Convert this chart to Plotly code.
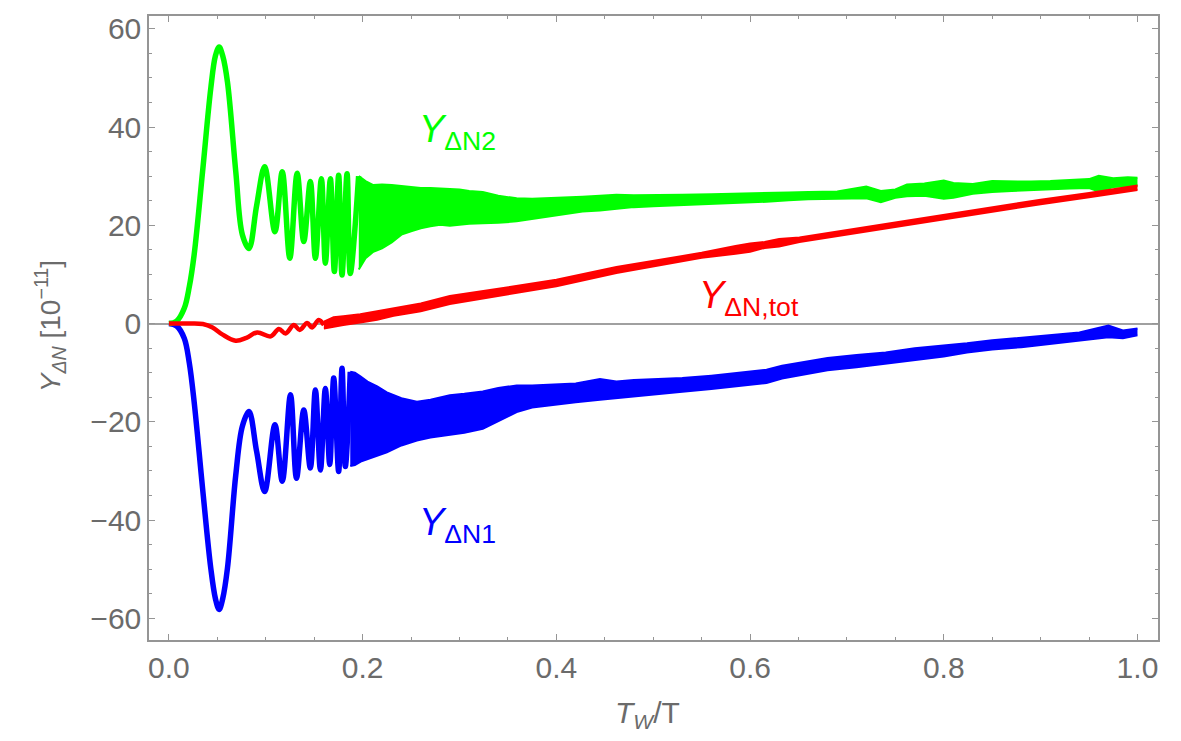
import plotly.graph_objects as go

GREEN = "#00ff00"
BLUE = "#0000ff"
RED = "#ff0000"
GRAY = "#6b6b6b"
FRAME = "#959595"

# ---- early, resolved oscillations (T_W/T, Y in 1e-11) ----
green_x = [0.0, 0.008, 0.0158, 0.021, 0.026, 0.0347, 0.0432, 0.048, 0.0518, 0.0555, 0.0604,
           0.069, 0.0758, 0.0826, 0.0905, 0.0988, 0.1094, 0.117, 0.1248, 0.1324, 0.1392,
           0.146, 0.1512, 0.1574, 0.1615, 0.1667, 0.1708, 0.1752, 0.1787, 0.1839, 0.1872, 0.1958]
green_y = [0.0, 0.5, 3.1, 7.5, 14.0, 30.9, 47.9, 54.5, 56.3, 54.5, 49.2,
           30.9, 18.1, 15.3, 24.0, 31.9, 18.7, 30.9, 13.3, 30.6, 16.7,
           28.9, 13.3, 29.5, 12.3, 29.5, 10.6, 30.2, 9.9, 30.5, 10.2, 30.0]

blue_x = [0.0, 0.008, 0.0158, 0.021, 0.026, 0.0347, 0.0432, 0.048, 0.0518, 0.0555, 0.0604,
          0.069, 0.0758, 0.0826, 0.0905, 0.0988, 0.1094, 0.117, 0.1255, 0.1317, 0.1392,
          0.146, 0.1512, 0.1564, 0.1615, 0.166, 0.1701, 0.1752, 0.1787, 0.1821, 0.1872]
blue_y = [0.0, -0.5, -3.0, -8.0, -15.9, -33.5, -49.8, -56.0, -58.2, -56.0, -49.8,
          -30.8, -20.9, -17.9, -26.0, -34.2, -20.6, -32.1, -14.5, -31.5, -17.6,
          -29.4, -13.5, -29.8, -13.2, -28.7, -11.1, -30.1, -9.1, -29.1, -9.8]

red_x = [0.0, 0.02, 0.035, 0.045, 0.055, 0.0689, 0.08, 0.0912, 0.105, 0.1135, 0.1204,
         0.129, 0.135, 0.1427, 0.1478, 0.1547, 0.16]
red_y = [0.0, 0.0, -0.1, -0.8, -2.2, -3.5, -2.9, -1.8, -2.6, -1.1, -2.0,
         -0.3, -1.3, 0.1, -0.8, 0.75, -0.3]

# ---- dense-oscillation bands: upper / lower envelopes ----
green_band_x = [0.196, 0.203, 0.211, 0.22, 0.23, 0.24, 0.25, 0.26, 0.27, 0.28, 0.29, 0.30, 0.31,
                0.324, 0.34, 0.359, 0.375, 0.393, 0.41, 0.427, 0.445, 0.462, 0.48, 0.50, 0.53,
                0.56, 0.59, 0.617, 0.64, 0.66, 0.69, 0.72, 0.735, 0.75, 0.762, 0.78, 0.80, 0.81,
                0.83, 0.85, 0.87, 0.89, 0.91, 0.93, 0.95, 0.96, 0.975, 0.99, 1.0]
green_band_hi = [30.0, 29.0, 28.2, 28.3, 28.2, 28.0, 27.9, 27.6, 27.6, 27.5, 27.4, 27.3, 27.0,
                 26.8, 26.0, 25.5, 25.4, 25.5, 25.7, 25.8, 26.0, 26.2, 26.1, 26.1, 26.2,
                 26.3, 26.4, 26.5, 26.7, 26.8, 26.9, 27.9, 27.0, 27.3, 28.3, 28.5, 29.1, 28.6,
                 28.4, 29.0, 28.9, 28.9, 29.0, 29.2, 29.4, 30.1, 29.6, 29.8, 29.7]
green_band_lo = [11.0, 13.3, 14.6, 15.3, 16.5, 18.1, 18.8, 19.4, 19.8, 20.1, 19.9, 20.1, 20.3,
                 20.4, 20.5, 20.8, 21.3, 21.8, 22.3, 22.8, 23.0, 23.4, 23.7, 23.9, 24.1,
                 24.4, 24.6, 24.8, 25.1, 25.3, 25.4, 25.5, 24.7, 25.6, 25.9, 26.0, 25.4, 25.6,
                 26.4, 26.8, 27.0, 27.2, 27.3, 27.5, 27.6, 26.9, 27.8, 28.0, 28.1]

blue_band_x = [0.1872, 0.192, 0.198, 0.205, 0.215, 0.225, 0.24, 0.256, 0.27, 0.29, 0.305, 0.324,
               0.34, 0.359, 0.375, 0.393, 0.42, 0.445, 0.462, 0.48, 0.50, 0.53, 0.56, 0.59,
               0.617, 0.633, 0.651, 0.68, 0.71, 0.74, 0.77, 0.80, 0.824, 0.85, 0.88, 0.91,
               0.94, 0.97, 0.985, 1.0]
blue_band_hi = [-9.8, -10.0, -10.8, -11.8, -12.8, -14.0, -15.2, -15.9, -15.5, -14.6, -14.3, -13.8,
                -13.1, -12.6, -12.6, -12.5, -12.2, -11.3, -11.8, -11.5, -11.4, -11.1, -10.6, -10.0,
                -9.4, -8.6, -8.0, -7.0, -6.4, -5.9, -5.0, -4.5, -4.0, -3.4, -2.9, -2.3,
                -1.8, -0.4, -1.4, -1.0]
blue_band_lo = [-29.0, -28.8, -28.1, -27.6, -27.0, -26.2, -24.8, -23.8, -23.2, -22.6, -22.2, -21.4,
                -19.8, -18.0, -17.1, -16.6, -16.0, -15.5, -15.2, -14.8, -14.5, -13.9, -13.3, -12.7,
                -12.1, -11.2, -10.5, -9.5, -8.9, -8.2, -7.5, -6.7, -5.9, -5.3, -4.8, -4.1,
                -3.4, -2.8, -3.0, -2.4]

red_band_x = [0.16, 0.17, 0.18, 0.1975, 0.215, 0.232, 0.26, 0.29, 0.321, 0.36, 0.40, 0.462,
              0.55, 0.585, 0.60, 0.615, 0.63, 0.651, 0.70, 0.75, 0.824, 0.9, 0.95, 1.0]
red_band_hi = [0.4, 1.3, 1.5, 1.9, 2.5, 3.1, 4.1, 5.6, 6.5, 7.6, 8.9, 11.5,
               14.4, 15.8, 16.3, 16.6, 17.2, 17.5, 19.0, 20.6, 22.9, 25.2, 26.6, 28.1]
red_band_lo = [-1.0, -0.6, -0.3, 0.2, 0.8, 1.6, 2.5, 4.0, 5.0, 6.3, 7.6, 10.3,
               13.4, 14.2, 14.6, 15.4, 15.7, 16.6, 18.1, 19.7, 22.0, 24.3, 25.7, 27.2]

x_tickvals = [0.0, 0.2, 0.4, 0.6, 0.8, 1.0]
y_tickvals = [-60, -40, -20, 0, 20, 40, 60]

fig = go.Figure()


def add_series(color, x, y, bx, bhi, blo, width):
    fig.add_trace(go.Scatter(x=bx, y=bhi, mode="lines", line=dict(color=color, width=2),
                             hoverinfo="skip"))
    fig.add_trace(go.Scatter(x=bx, y=blo, mode="lines", line=dict(color=color, width=2),
                             fill="tonexty", fillcolor=color, hoverinfo="skip"))
    fig.add_trace(go.Scatter(x=x, y=y, mode="lines",
                             line=dict(color=color, width=width, shape="spline", smoothing=1.0)))


add_series(BLUE, blue_x, blue_y, blue_band_x, blue_band_hi, blue_band_lo, 5.5)
add_series(GREEN, green_x, green_y, green_band_x, green_band_hi, green_band_lo, 5.5)
add_series(RED, red_x, red_y, red_band_x, red_band_hi, red_band_lo, 4.5)

FONT = "Liberation Sans, Arial, sans-serif"

axis_common = dict(
    showgrid=False, showline=True, linecolor=FRAME, linewidth=1.5, mirror="allticks",
    ticks="inside", ticklen=6, tickwidth=1, tickcolor=FRAME,
    tickfont=dict(family=FONT, size=30, color=GRAY),
)

fig.update_xaxes(range=[-0.0206, 1.0212], tickvals=x_tickvals, tickformat=".1f",
                 minor=dict(dtick=0.05, ticklen=3.5, tickcolor=FRAME, ticks="inside"),
                 zeroline=False, **axis_common)
fig.update_yaxes(range=[-64.4, 62.6], tickvals=y_tickvals,
                 minor=dict(dtick=5, ticklen=3.5, tickcolor=FRAME, ticks="inside"),
                 zeroline=True, zerolinecolor="#a0a0a0", zerolinewidth=1.5, **axis_common)

annotations = [
    dict(text="<i>Y</i><sub>ΔN2</sub>", x=0.256, y=38.9, xanchor="left", yanchor="middle",
         font=dict(family=FONT, size=38, color=GREEN), showarrow=False),
    dict(text="<i>Y</i><sub>ΔN1</sub>", x=0.256, y=-41.0, xanchor="left", yanchor="middle",
         font=dict(family=FONT, size=38, color=BLUE), showarrow=False),
    dict(text="<i>Y</i><sub>ΔN,tot</sub>", x=0.545, y=5.3, xanchor="left", yanchor="middle",
         font=dict(family=FONT, size=38, color=RED), showarrow=False),
    dict(text="<i>Y</i><sub><i>ΔN</i></sub> [10<sup>−11</sup>]", xref="paper", yref="paper",
         x=-0.098, y=0.503, xanchor="center", yanchor="middle", textangle=-90,
         font=dict(family=FONT, size=28, color=GRAY), showarrow=False),
    dict(text="<i>T</i><sub><i>W</i></sub>/T", xref="paper", yref="paper",
         x=0.4936, y=-0.12, xanchor="center", yanchor="middle",
         font=dict(family=FONT, size=30, color=GRAY), showarrow=False),
]

fig.update_layout(
    width=1181, height=741,
    margin=dict(l=149, r=23, t=14, b=101),
    paper_bgcolor="white", plot_bgcolor="white",
    showlegend=False, annotations=annotations,
)

fig.write_html("out.html")
